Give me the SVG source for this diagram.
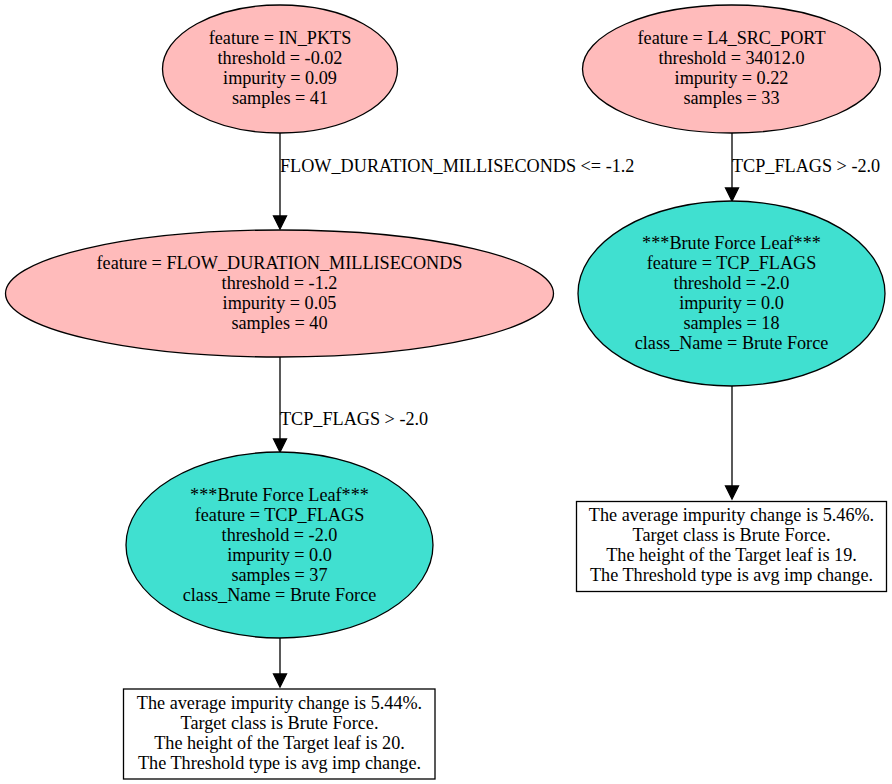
<svg xmlns="http://www.w3.org/2000/svg" width="892" height="784" viewBox="0 0 892 784">
<style>
text{font-family:"Liberation Serif","Times New Roman",serif;font-size:18.2px;fill:#000}
.c{text-anchor:middle}
.split{fill:#ffbbbb;stroke:#000;stroke-width:1.3}
.leaf{fill:#40e0d0;stroke:#000;stroke-width:1.3}
.box{fill:#fff;stroke:#000;stroke-width:1.3}
.edge{stroke:#000;stroke-width:1.3;fill:none}
.head{fill:#000;stroke:#000;stroke-width:1.3}
</style>
<rect width="892" height="784" fill="#fff"/>
<g id="connectors">
  <line class="edge" x1="280" y1="133" x2="280" y2="216"/>
  <polygon class="head" points="273.5,216 286.5,216 280,229"/>
  <text x="280" y="172">FLOW_DURATION_MILLISECONDS &lt;= -1.2</text>
  <line class="edge" x1="280" y1="357" x2="280" y2="439"/>
  <polygon class="head" points="273.5,439 286.5,439 280,452"/>
  <text x="280" y="425">TCP_FLAGS &gt; -2.0</text>
  <line class="edge" x1="280" y1="638" x2="280" y2="674"/>
  <polygon class="head" points="273.5,674 286.5,674 280,687"/>
  <line class="edge" x1="732" y1="133" x2="732" y2="188"/>
  <polygon class="head" points="725.5,188 738.5,188 732,201"/>
  <text x="732" y="172">TCP_FLAGS &gt; -2.0</text>
  <line class="edge" x1="732" y1="386" x2="732" y2="486"/>
  <polygon class="head" points="725.5,486 738.5,486 732,499"/>
</g>
<g id="node_in_pkts">
  <ellipse class="split" cx="280" cy="69" rx="117.5" ry="64"/>
  <text class="c" x="280" y="44">feature = IN_PKTS</text>
  <text class="c" x="280" y="64">threshold = -0.02</text>
  <text class="c" x="280" y="84">impurity = 0.09</text>
  <text class="c" x="280" y="104">samples = 41</text>
</g>
<g id="node_flow_duration">
  <ellipse class="split" cx="279.5" cy="293.5" rx="274" ry="63.5"/>
  <text class="c" x="279.5" y="269">feature = FLOW_DURATION_MILLISECONDS</text>
  <text class="c" x="279.5" y="289">threshold = -1.2</text>
  <text class="c" x="279.5" y="309">impurity = 0.05</text>
  <text class="c" x="279.5" y="329">samples = 40</text>
</g>
<g id="node_leaf_left">
  <ellipse class="leaf" cx="279.5" cy="545" rx="153.5" ry="93"/>
  <text class="c" x="279.5" y="501">***Brute Force Leaf***</text>
  <text class="c" x="279.5" y="521">feature = TCP_FLAGS</text>
  <text class="c" x="279.5" y="541">threshold = -2.0</text>
  <text class="c" x="279.5" y="561">impurity = 0.0</text>
  <text class="c" x="279.5" y="581">samples = 37</text>
  <text class="c" x="279.5" y="601">class_Name = Brute Force</text>
</g>
<g id="node_box_left">
  <rect class="box" x="123.5" y="689" width="311.5" height="90"/>
  <text class="c" x="279.5" y="709">The average impurity change is 5.44%.</text>
  <text class="c" x="279.5" y="729">Target class is Brute Force.</text>
  <text class="c" x="279.5" y="749">The height of the Target leaf is 20.</text>
  <text class="c" x="279.5" y="769">The Threshold type is avg imp change.</text>
</g>
<g id="node_l4_src_port">
  <ellipse class="split" cx="731.5" cy="69" rx="149" ry="64"/>
  <text class="c" x="731.5" y="44">feature = L4_SRC_PORT</text>
  <text class="c" x="731.5" y="64">threshold = 34012.0</text>
  <text class="c" x="731.5" y="84">impurity = 0.22</text>
  <text class="c" x="731.5" y="104">samples = 33</text>
</g>
<g id="node_leaf_right">
  <ellipse class="leaf" cx="731.5" cy="293.5" rx="153.5" ry="92.5"/>
  <text class="c" x="731.5" y="249">***Brute Force Leaf***</text>
  <text class="c" x="731.5" y="269">feature = TCP_FLAGS</text>
  <text class="c" x="731.5" y="289">threshold = -2.0</text>
  <text class="c" x="731.5" y="309">impurity = 0.0</text>
  <text class="c" x="731.5" y="329">samples = 18</text>
  <text class="c" x="731.5" y="349">class_Name = Brute Force</text>
</g>
<g id="node_box_right">
  <rect class="box" x="576.5" y="501.5" width="310" height="90"/>
  <text class="c" x="731.5" y="521">The average impurity change is 5.46%.</text>
  <text class="c" x="731.5" y="541">Target class is Brute Force.</text>
  <text class="c" x="731.5" y="561">The height of the Target leaf is 19.</text>
  <text class="c" x="731.5" y="581">The Threshold type is avg imp change.</text>
</g>
</svg>
